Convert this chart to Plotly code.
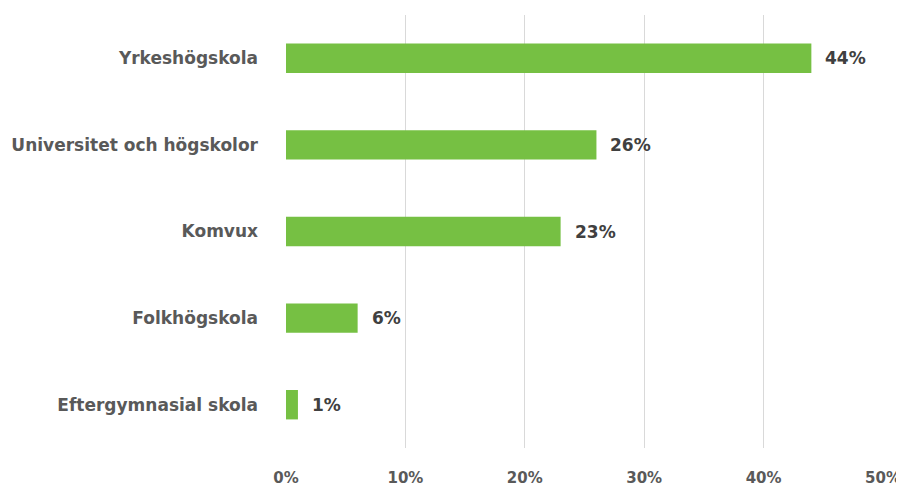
import plotly.graph_objects as go

categories = ["Yrkeshögskola", "Universitet och högskolor", "Komvux", "Folkhögskola", "Eftergymnasial skola"]
values = [44, 26, 23, 6, 1]
tick_vals = [0, 10, 20, 30, 40, 50]
tick_text = ["0%", "10%", "20%", "30%", "40%", "50%"]

FONT = "DejaVu Sans"

fig = go.Figure()
fig.add_trace(go.Bar(
    y=categories, x=values, orientation="h",
    marker=dict(color="#76C043", line=dict(width=0)),
    width=0.34,
    hoverinfo="skip",
))
for c, v in zip(categories, values):
    fig.add_annotation(x=v, y=c, text=f"<b>{v}%</b>", showarrow=False,
                       xanchor="left", xshift=12,
                       font=dict(family=FONT, size=17, color="#404040"))

fig.update_layout(
    width=904, height=486,
    margin=dict(l=278, r=29, t=7, b=46, autoexpand=False),
    plot_bgcolor="white", paper_bgcolor="white",
    showlegend=False,
    xaxis=dict(range=[0, 50], tickvals=tick_vals, ticktext=[f"<b>{t}</b>" for t in tick_text],
               showgrid=True, gridcolor="#d9d9d9", gridwidth=1, zeroline=False,
               showline=False, ticks="", ticklabelstandoff=19, automargin=False,
               tickfont=dict(family=FONT, size=15, color="#595959")),
    yaxis=dict(categoryorder="array", categoryarray=categories[::-1],
               tickvals=categories, ticktext=[f"<b>{c}</b>" for c in categories],
               showgrid=False, zeroline=False, showline=False, ticks="",
               ticklabelstandoff=27, automargin=False,
               tickfont=dict(family=FONT, size=17, color="#595959")),
)
fig.write_html("out.html")
